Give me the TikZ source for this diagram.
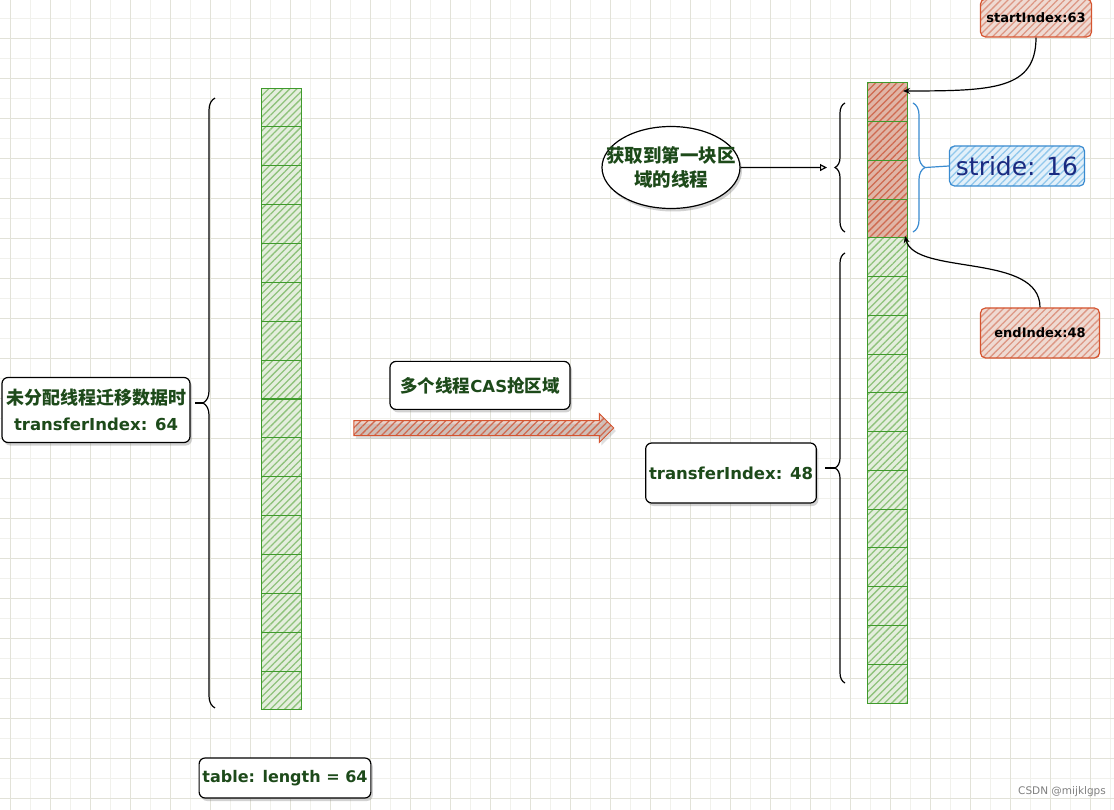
\documentclass[tikz,border=0pt]{standalone}
\usepackage{fontspec}
\setmainfont{DejaVu Sans}
\newfontfamily\cjk{Noto Sans CJK SC}
\usepackage{tikz}
\usetikzlibrary{arrows.meta,positioning,patterns.meta,shadows,shapes.geometric,shapes.arrows,decorations.pathreplacing,calc}
\definecolor{gridminor}{HTML}{F1F1EC}
\definecolor{gridmajor}{HTML}{E2E2D8}
\definecolor{cellline}{HTML}{3F9A2C}
\definecolor{cellfill}{HTML}{E4EEDD}
\definecolor{cellhatch}{HTML}{8FC27C}
\definecolor{redline}{HTML}{D5542F}
\definecolor{redfill}{HTML}{E0B5A6}
\definecolor{redhatch}{HTML}{CF6A50}
\definecolor{blueline}{HTML}{3A8BD0}
\definecolor{bluefill}{HTML}{E2F0FA}
\definecolor{bluehatch}{HTML}{92C8EC}
\definecolor{bluetext}{HTML}{1A2A80}
\definecolor{txtgreen}{HTML}{1D4A1A}
\tikzset{
    %Define standard arrow tip
    >={Stealth[length=7pt,width=6pt]},
    %Define hatching
    hatch/.style={
           pattern={Lines[angle=45,distance=5pt,line width=1.3pt]},
           pattern color=#1},
    %Define style for table slots
    slot/.style={
           rectangle,
           draw=cellline, line width=1pt,
           minimum width=40pt,
           minimum height=38.8pt,
           inner sep=0pt, outer sep=0pt},
    cell/.style={
           slot,
           preaction={fill=cellfill},
           hatch=cellhatch},
    redcell/.style={
           slot,
           preaction={fill=redfill},
           hatch=redhatch},
    %Define style for boxes
    textbox/.style={
           rectangle,
           rounded corners=6pt,
           draw=black, line width=1.2pt,
           fill=white,
           drop shadow={opacity=.35,shadow xshift=2pt,shadow yshift=-3pt},
           font=\bfseries\fontsize{16.5}{26}\selectfont,
           text=txtgreen,
           align=center},
    thread/.style={
           ellipse,
           draw=black, line width=1.2pt,
           fill=white,
           drop shadow={opacity=.35,shadow xshift=2pt,shadow yshift=-3pt},
           minimum width=138pt,
           minimum height=82pt,
           inner xsep=-16pt, inner ysep=6pt,
           font=\cjk\bfseries\fontsize{18.5}{24}\selectfont,
           text=txtgreen,
           align=center},
    redbox/.style={
           rectangle,
           rounded corners=5pt,
           draw=redline, line width=1.2pt,
           preaction={fill=redfill!50},
           hatch=redhatch!70,
           font=\bfseries\fontsize{13}{15}\selectfont},
    bluebox/.style={
           rectangle,
           rounded corners=5pt,
           draw=blueline, line width=1.2pt,
           preaction={fill=bluefill},
           hatch=bluehatch,
           text=bluetext,
           font=\fontsize{25}{28}\selectfont},
    fatarrow/.style={
           single arrow,
           draw=redline, line width=1pt,
           preaction={fill=redfill!60},
           hatch=redhatch,
           drop shadow={opacity=.25,shadow xshift=2pt,shadow yshift=-3pt},
           single arrow head extend=7pt,
           inner xsep=0pt, inner ysep=7pt,
           minimum height=260pt},
    % Define brace style
    brace/.style={
           decorate,
           decoration={brace,amplitude=#1},
           line width=1.2pt},
    % Define arrow style
    pil/.style={
           ->,
           line width=1.2pt}
}

\begin{document}
\begin{tikzpicture}[x=1pt,y=-1pt]
\useasboundingbox (0,0) rectangle (1114,810);

 %background
\fill[white] (0,0) rectangle (1114,810);
\begin{scope}
\clip (0,0) rectangle (1114,810);
\draw[gridminor, line width=.6pt, step=20pt, xshift=10pt, yshift=2pt] (-40,-40) grid (1160,860);
\draw[gridmajor, line width=.8pt, step=40pt, xshift=10pt, yshift=2pt] (-40,-40) grid (1160,860);
\end{scope}

 %table before
\foreach \i in {1,...,16}
    \node[cell] (L\i) at (281,{88+38.875*(\i-0.5)}) {};

 %table after
\foreach \i in {1,...,4}
    \node[redcell] (R\i) at (887,{83+38.75*(\i-0.5)}) {};
\foreach \i in {5,...,16}
    \node[cell] (R\i) at (887,{83+38.75*(\i-0.5)}) {};

 %braces
\draw[brace=12pt] ($(L16.south west)+(-46,-2)$) -- ($(L1.north west)+(-46,10)$);
\coordinate (tipL) at ($(L8.south west)+(-58,4)$);
\draw[line width=1.2pt] (tipL) -- ++(-8,0);
\draw[brace=10pt] ($(R4.south west)+(-22,-6)$) -- ($(R1.north west)+(-22,20)$);
\coordinate (tipA) at ($(R2.south west)+(-32,7)$);
\draw[brace=10pt] ($(R16.south west)+(-22,-20)$) -- ($(R5.north west)+(-22,15)$);
\coordinate (tipB) at ($(R10.south west)+(-32,-2.5)$);
\draw[line width=1.2pt] (tipB) -- ++(-10,0);
\draw[brace=12pt, blueline] ($(R1.north east)+(6,20)$) -- ($(R4.south east)+(6,-6)$);
\coordinate (tipC) at ($(R2.south east)+(18,7)$);

 %nodes
\node[textbox, minimum width=188pt, minimum height=65pt] (before) at (96,410)
    {{\cjk\fontsize{18}{26}\selectfont 未分配线程迁移数据时}\\transferIndex: 64};
\node[fatarrow] (cas) at (480,428) {};
\node[textbox, minimum width=180pt, minimum height=48pt, above=10pt of cas] (caslabel)
    {{\cjk\fontsize{17.5}{22}\selectfont 多个线程}CAS{\cjk\fontsize{17.5}{22}\selectfont 抢区域}};
\node[textbox, minimum width=168pt, minimum height=60pt] (after) at (731,473)
    {transferIndex: 48};
\node[textbox, minimum width=170pt, minimum height=40pt, font=\bfseries\fontsize{16}{20}\selectfont] (len) at (285,778)
    {table: length = 64};
\node[thread] (first) at (671,167.5) {获取到第一块区\\域的线程};
\node[bluebox, minimum width=135pt, minimum height=40pt] (stride) at (1017,166) {stride: 16};
\node[redbox, minimum width=111pt, minimum height=38pt] (start) at (1036,18) {startIndex:63};
\node[redbox, minimum width=119pt, minimum height=50pt] (end) at (1040,333) {endIndex:48};
\node[gray, font=\fontsize{10.5}{13}\selectfont] (mark) at (1062,792) {CSDN @mijklgps};

 %connectors
\draw[pil, -{Triangle[open,length=7pt,width=7pt]}] (first.east) -- ($(tipA)+(-8,0)$);
\draw[blueline, line width=1.2pt] (tipC) -- (stride.west);
\draw[pil] (start.south) .. controls +(0,52) and +(90,0) .. ($(R1.north east)+(-4,8)$);
\draw[pil] (end.north) .. controls +(0,-55) and +(10,40) .. ($(R4.south east)+(-2,-2)$);
\end{tikzpicture}
\end{document}
